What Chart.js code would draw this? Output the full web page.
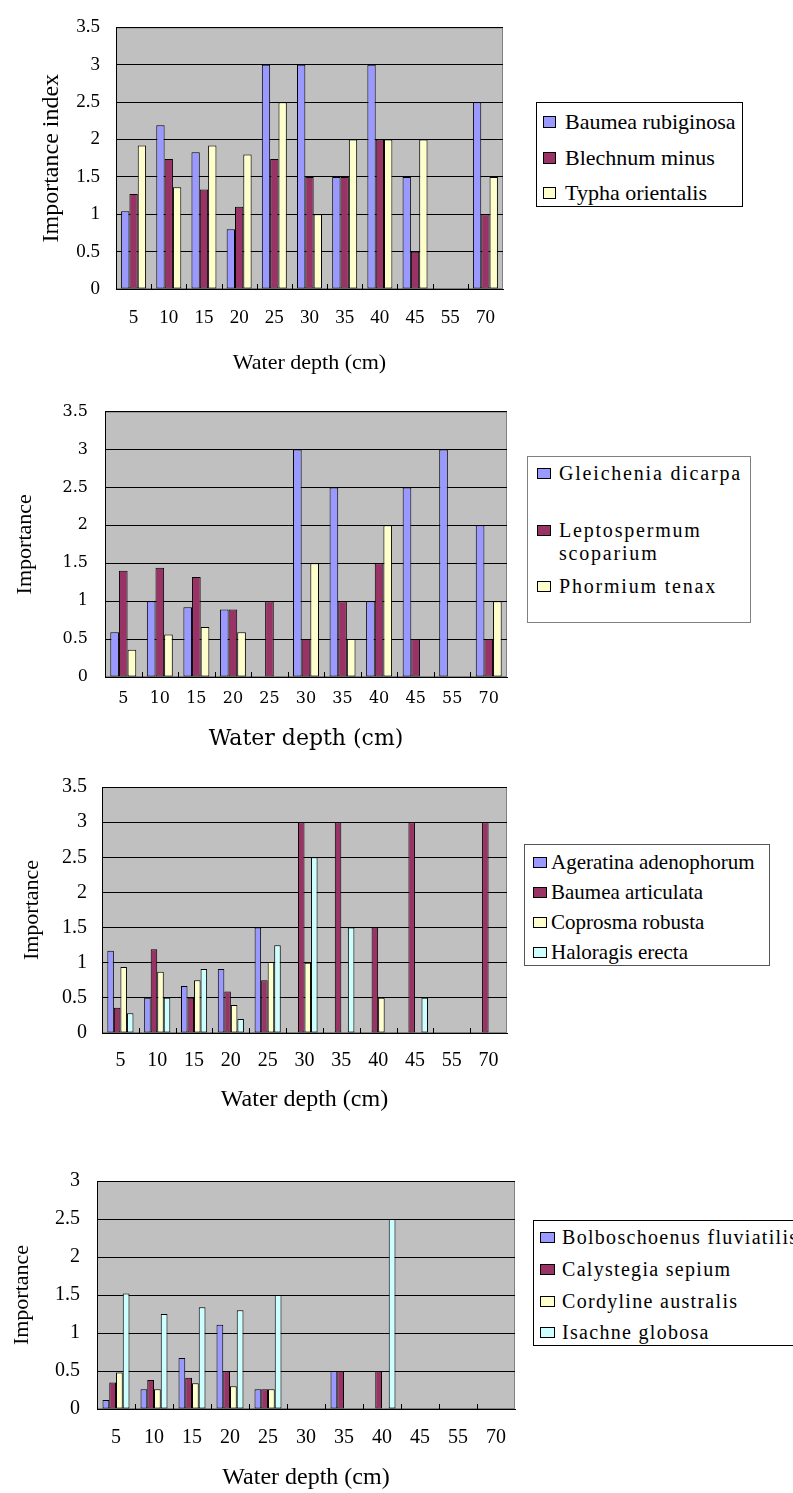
<!DOCTYPE html>
<html>
<head>
<meta charset="utf-8">
<script src="https://cdn.jsdelivr.net/npm/chart.js@4/dist/chart.umd.min.js"></script>
<style>
  body { margin: 0; background: #fff; width: 793px; height: 1493px; position: relative; overflow: hidden; }
  canvas { position: absolute; left: 0; }
  .legend { position: absolute; border: 1px solid #000; background: #fff; box-sizing: border-box; }
  .item { position: absolute; display: flex; align-items: flex-start; color: #000; }
  .key { box-sizing: border-box; border: 1px solid #000; flex: none; }
</style>
</head>
<body>
<canvas id="chart1" width="520" height="385" style="top:0px"></canvas>
<canvas id="chart2" width="520" height="375" style="top:385px"></canvas>
<canvas id="chart3" width="520" height="370" style="top:760px"></canvas>
<canvas id="chart4" width="520" height="363" style="top:1130px"></canvas>
<div id="legend1" class="legend"></div>
<div id="legend2" class="legend"></div>
<div id="legend3" class="legend"></div>
<div id="legend4" class="legend"></div>
<script>
  "use strict";

  // water depth categories (cm)
  var depths = ["5", "10", "15", "20", "25", "30", "35", "40", "45", "55", "70"];

  // chart 1
  var names1 = ["Baumea rubiginosa", "Blechnum minus", "Typha orientalis"];
  var baumeaRubiginosa = [1.04, 2.19, 1.83, 0.8, 3, 3, 1.5, 3, 1.5, null, 2.5];
  var blechnumMinus = [1.27, 1.74, 1.33, 1.1, 1.74, 1.5, 1.5, 2, 0.5, null, 1];
  var typhaOrientalis = [1.92, 1.36, 1.92, 1.8, 2.5, 1, 2, 2, 2, null, 1.5];

  // chart 2
  var names2 = ["Gleichenia dicarpa", "Leptospermum scoparium", "Phormium tenax"];
  var gleicheniaDicarpa = [0.59, 1, 0.92, 0.89, null, 3, 2.5, 1, 2.5, 3, 2];
  var leptospermumScoparium = [1.4, 1.44, 1.32, 0.89, 1, 0.5, 1, 1.5, 0.5, null, 0.5];
  var phormiumTenax = [0.36, 0.56, 0.66, 0.59, null, 1.5, 0.5, 2, null, null, 1];

  // chart 3
  var names3 = ["Ageratina adenophorum", "Baumea articulata", "Coprosma robusta", "Haloragis erecta"];
  var ageratinaAdenophorum = [1.17, 0.5, 0.67, 0.91, 1.5, null, null, null, null, null, null];
  var baumeaArticulata = [0.36, 1.19, 0.5, 0.59, 0.75, 3, 3, 1.5, 3, null, 3];
  var coprosmaRobusta = [0.94, 0.87, 0.75, 0.4, 1.01, 1, null, 0.5, null, null, null];
  var haloragisErecta = [0.28, 0.5, 0.91, 0.2, 1.25, 2.5, 1.5, null, 0.5, null, null];

  // chart 4
  var names4 = ["Bolboschoenus fluviatilis", "Calystegia sepium", "Cordyline australis", "Isachne globosa"];
  var bolboschoenusFluviatilis = [0.12, 0.26, 0.67, 1.11, 0.26, null, 0.5, null, null, null, null];
  var calystegiaSepium = [0.35, 0.38, 0.41, 0.5, 0.26, null, 0.5, 0.5, null, null, null];
  var cordylineAustralis = [0.48, 0.26, 0.34, 0.3, 0.26, null, null, null, null, null, null];
  var isachneGlobosa = [1.52, 1.25, 1.34, 1.3, 1.5, null, null, 2.5, null, null, null];

  var yTicks1 = { max: 3.5, step: 0.5 };
  var yTicks4 = { max: 3, step: 0.5 };

  var colors = ["#9999ff", "#993366", "#ffffcc", "#ccffff"];

  // grey plot area like the old Excel charts
  var plotBg = {
    id: "plotBg",
    beforeDraw: function (chart) {
      var ctx = chart.ctx, a = chart.chartArea;
      ctx.save();
      ctx.fillStyle = "#c0c0c0";
      ctx.fillRect(a.left, a.top, a.right - a.left, a.bottom - a.top);
      ctx.strokeStyle = "#808080";
      ctx.lineWidth = 1;
      ctx.strokeRect(a.left + 0.5, a.top + 0.5, a.right - a.left - 1, a.bottom - a.top - 1);
      ctx.restore();
    }
  };

  // small category tick marks pointing up into the plot
  var innerTicks = {
    id: "innerTicks",
    afterDatasetsDraw: function (chart) {
      var ctx = chart.ctx, a = chart.chartArea, xs = chart.scales.x;
      var n = xs.ticks.length, w = (a.right - a.left) / n;
      ctx.save();
      ctx.strokeStyle = "#000";
      ctx.lineWidth = 1;
      ctx.beginPath();
      for (var i = 1; i < n; i++) {
        var px = Math.round(xs.getPixelForTick(i) - w / 2) + 0.5;
        ctx.moveTo(px, a.bottom);
        ctx.lineTo(px, a.bottom - 5);
      }
      ctx.stroke();
      ctx.restore();
    }
  };

  function makeChart(id, lay, names, series, yTicks, yTitle) {
    var datasets = series.map(function (data, i) {
      return {
        label: names[i],
        data: data,
        backgroundColor: colors[i],
        borderColor: "#000",
        borderWidth: 1,
        borderSkipped: false,
        barPercentage: 1,
        categoryPercentage: 0.71
      };
    });
    var xLh = lay.xTitleSize * 1.2, yLh = lay.yTitleSize * 1.2, tLh = lay.tickSize * 2;
    return new Chart(document.getElementById(id), {
      type: "bar",
      data: { labels: depths, datasets: datasets },
      plugins: [plotBg, innerTicks],
      options: {
        responsive: false,
        animation: false,
        devicePixelRatio: 1,
        layout: { padding: { left: 0, top: lay.plotTop - lay.canvasTop, right: 520 - lay.plotRight, bottom: 0 } },
        plugins: { legend: { display: false }, tooltip: { enabled: false } },
        scales: {
          x: {
            offset: true,
            grid: { display: false, drawTicks: false },
            border: { display: true, color: "#000" },
            ticks: {
              color: "#000", autoSkip: false, maxRotation: 0,
              font: { family: lay.tickFont, size: lay.tickSize, lineHeight: 2 },
              padding: lay.xLabelY - lay.plotBottom - tLh / 2
            },
            title: {
              display: true, text: "Water depth (cm)", color: "#000",
              font: { family: lay.titleFont, size: lay.xTitleSize },
              padding: { top: 0, bottom: lay.canvasBottom - lay.xTitleY - xLh / 2 }
            },
            afterFit: function (s) { s.height = lay.canvasBottom - lay.plotBottom; }
          },
          y: {
            min: 0,
            max: yTicks.max,
            grid: { color: "#000", drawTicks: false },
            border: { display: true, color: "#000" },
            ticks: {
              stepSize: yTicks.step, color: "#000",
              font: { family: lay.tickFont, size: lay.tickSize },
              padding: lay.plotLeft - lay.yTickRight,
              callback: function (v) { return String(v); }
            },
            title: {
              display: true, text: yTitle, color: "#000",
              font: { family: lay.yTitleFont || lay.titleFont, size: lay.yTitleSize },
              padding: { top: lay.yTitleX - yLh / 2, bottom: 0 }
            },
            afterFit: function (s) { s.width = lay.plotLeft; }
          }
        }
      }
    });
  }

  // html legend built from the chart's own datasets
  function makeLegend(elId, chart, lg) {
    var box = document.getElementById(elId);
    box.style.left = lg.left + "px";
    box.style.top = lg.top + "px";
    box.style.width = lg.width + "px";
    box.style.height = lg.height + "px";
    if (lg.border) box.style.borderColor = lg.border;
    chart.data.datasets.forEach(function (ds, i) {
      var item = document.createElement("div");
      item.className = "item";
      item.style.left = (lg.keyLeft - lg.left - 1) + "px";
      item.style.top = (lg.centers[i] - lg.lineH / 2 - lg.top - 1) + "px";
      item.style.font = lg.size + "px " + lg.font;
      item.style.lineHeight = lg.lineH + "px";
      item.style.letterSpacing = (lg.spacing || 0) + "px";
      var key = document.createElement("span");
      key.className = "key";
      key.style.width = lg.keyW + "px";
      key.style.height = lg.keyH + "px";
      key.style.background = ds.backgroundColor;
      key.style.marginTop = ((lg.lineH - lg.keyH) / 2) + "px";
      key.style.marginRight = (lg.textLeft - lg.keyLeft - lg.keyW) + "px";
      var txt = document.createElement("span");
      txt.textContent = ds.label;
      txt.style.whiteSpace = lg.wrap ? "normal" : "nowrap";
      if (lg.wrap) txt.style.width = lg.wrap + "px";
      item.appendChild(key);
      item.appendChild(txt);
      box.appendChild(item);
    });
  }

  var serif = "'Liberation Serif', 'Times New Roman', Times, serif";
  var wide = "'DejaVu Serif', serif";

  var c1 = makeChart("chart1", {
    canvasTop: 0, canvasBottom: 385, plotLeft: 116, plotRight: 503, plotTop: 13, plotBottom: 289,
    xLabelY: 318, xTitleY: 363, yTitleX: 52, yTickRight: 100,
    tickFont: serif, tickSize: 19, titleFont: serif, xTitleSize: 22, yTitleSize: 24
  }, names1, [baumeaRubiginosa, blechnumMinus, typhaOrientalis], yTicks1, "Importance index");

  var c2 = makeChart("chart2", {
    canvasTop: 385, canvasBottom: 760, plotLeft: 105, plotRight: 507, plotTop: 404, plotBottom: 677,
    xLabelY: 699, xTitleY: 739, yTitleX: 25, yTickRight: 88,
    tickFont: wide, tickSize: 16, titleFont: wide, xTitleSize: 22,
    yTitleFont: serif, yTitleSize: 22
  }, names2, [gleicheniaDicarpa, leptospermumScoparium, phormiumTenax], yTicks1, "Importance");

  var c3 = makeChart("chart3", {
    canvasTop: 760, canvasBottom: 1130, plotLeft: 102, plotRight: 507, plotTop: 779, plotBottom: 1033,
    xLabelY: 1061, xTitleY: 1100, yTitleX: 32, yTickRight: 87,
    tickFont: serif, tickSize: 20, titleFont: serif, xTitleSize: 24, yTitleSize: 22
  }, names3, [ageratinaAdenophorum, baumeaArticulata, coprosmaRobusta, haloragisErecta], yTicks1, "Importance");

  var c4 = makeChart("chart4", {
    canvasTop: 1130, canvasBottom: 1493, plotLeft: 97, plotRight: 515, plotTop: 1181, plotBottom: 1409,
    xLabelY: 1438, xTitleY: 1478, yTitleX: 22, yTickRight: 80,
    tickFont: serif, tickSize: 20, titleFont: serif, xTitleSize: 24, yTitleSize: 22
  }, names4, [bolboschoenusFluviatilis, calystegiaSepium, cordylineAustralis, isachneGlobosa], yTicks4, "Importance");

  makeLegend("legend1", c1, {
    left: 536, top: 102, width: 207, height: 105, keyLeft: 543, textLeft: 565, keyW: 13, keyH: 12,
    centers: [122, 158, 193], font: serif, size: 22, lineH: 24
  });
  makeLegend("legend2", c2, {
    left: 527, top: 456, width: 224, height: 167, keyLeft: 537, textLeft: 559, keyW: 14, keyH: 11,
    centers: [473, 530, 586], font: serif, size: 20, lineH: 23, spacing: 1.8, wrap: 190, border: "#808080"
  });
  makeLegend("legend3", c3, {
    left: 524, top: 844, width: 246, height: 122, keyLeft: 533, textLeft: 551, keyW: 14, keyH: 11,
    centers: [862, 892, 922, 952], font: serif, size: 21, lineH: 24, border: "#555"
  });
  makeLegend("legend4", c4, {
    left: 533, top: 1220, width: 300, height: 126, keyLeft: 540, textLeft: 562, keyW: 15, keyH: 11,
    centers: [1237, 1269, 1301, 1332], font: serif, size: 20, lineH: 24, spacing: 1.3
  });
</script>
</body>
</html>
